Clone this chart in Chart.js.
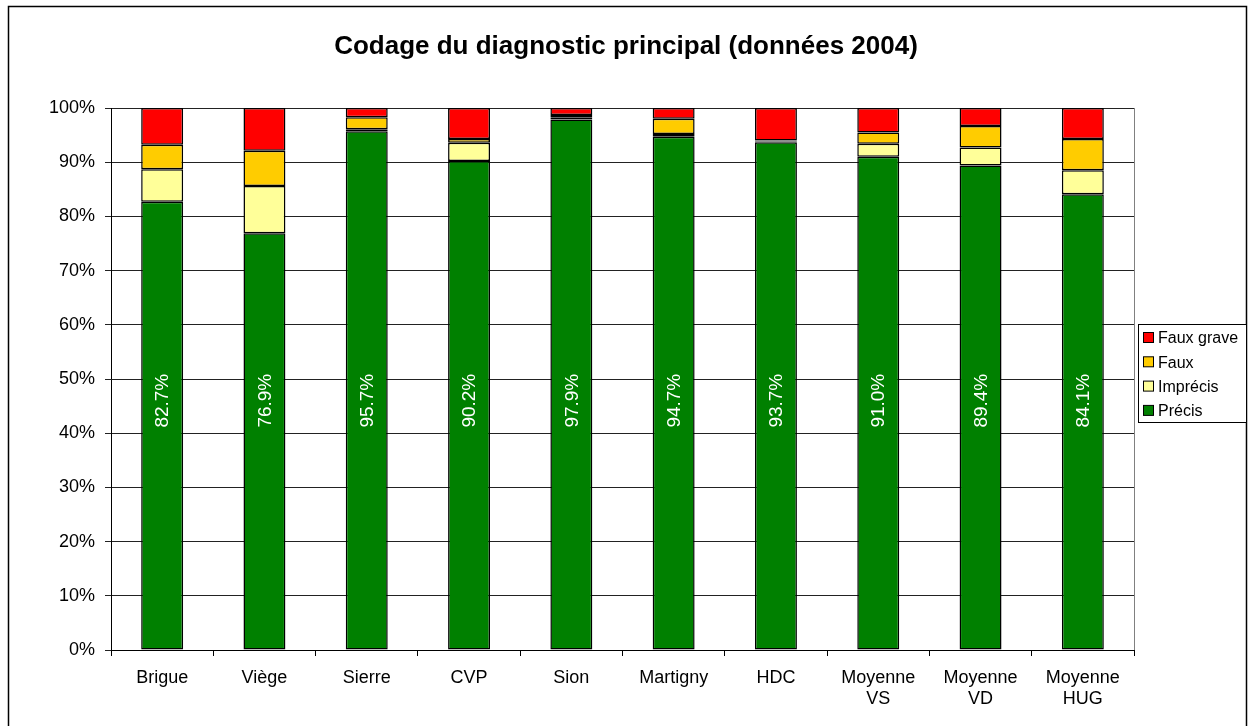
<!DOCTYPE html>
<html>
<head>
<meta charset="utf-8">
<script src="https://cdn.jsdelivr.net/npm/chart.js@4/dist/chart.umd.min.js"></script>
<style>
    html, body { margin: 0; padding: 0; background: #fff; }
    #wrap { position: relative; width: 1249px; height: 726px; }
</style>
</head>
<body>
<div id="wrap"><canvas id="chart" width="1249" height="726"></canvas></div>
<script>
const categories = ['Brigue', 'Viège', 'Sierre', 'CVP', 'Sion', 'Martigny', 'HDC',
    ['Moyenne', 'VS'], ['Moyenne', 'VD'], ['Moyenne', 'HUG']];
const precis     = [82.7, 76.9, 95.7, 90.2, 97.9, 94.7, 93.7, 91.0, 89.4, 84.1];
const imprecis   = [6.0, 8.7, 0.4, 3.4, 0.4, 0.5, 0.1, 2.4, 3.3, 4.4];
const faux       = [4.5, 6.5, 2.2, 0.7, 0.4, 2.8, 0.2, 2.1, 4.0, 5.8];
const fauxGrave  = [6.8, 7.9, 1.7, 5.7, 1.3, 2.0, 6.0, 4.5, 3.3, 5.7];
const yTicks = [0, 10, 20, 30, 40, 50, 60, 70, 80, 90, 100];

const FONT = "'Liberation Sans', Arial, sans-serif";
const titleText = 'Codage du diagnostic principal (données 2004)';

// frame, title, labels in the green bars, legend box
const extras = {
    id: 'extras',
    beforeDraw(chart) {
        const ctx = chart.ctx;
        const a = chart.chartArea;
        ctx.save();
        ctx.strokeStyle = '#000';
        ctx.lineWidth = 1.5;
        ctx.beginPath();
        ctx.moveTo(8.5, 740);
        ctx.lineTo(8.5, 6.5);
        ctx.lineTo(1246.5, 6.5);
        ctx.lineTo(1246.5, 740);
        ctx.stroke();
        // plot area border
        ctx.strokeStyle = '#808080';
        ctx.lineWidth = 1;
        ctx.strokeRect(a.left + 0.5, a.top + 0.5, a.right - a.left, a.bottom - a.top);
        ctx.restore();
    },
    afterDraw(chart) {
        const ctx = chart.ctx;
        const y = chart.scales.y;
        ctx.save();
        ctx.fillStyle = '#000';
        ctx.font = 'bold 26px ' + FONT;
        ctx.textAlign = 'center';
        ctx.textBaseline = 'middle';
        ctx.fillText(titleText, 626, 47);

        // values in Précis bars
        const meta = chart.getDatasetMeta(0);
        ctx.fillStyle = '#fff';
        ctx.font = '19px ' + FONT;
        meta.data.forEach((bar, i) => {
            ctx.save();
            ctx.translate(bar.x, y.getPixelForValue(46));
            ctx.rotate(-Math.PI / 2);
            ctx.fillText(precis[i].toFixed(1) + '%', 0, 1);
            ctx.restore();
        });

        // legend (reverse order)
        const lx = 1138, ly = 324, lw = 108, lh = 98;
        ctx.fillStyle = '#fff';
        ctx.fillRect(lx, ly, lw, lh);
        ctx.strokeStyle = '#000';
        ctx.lineWidth = 1;
        ctx.strokeRect(lx + 0.5, ly + 0.5, lw, lh);
        ctx.font = '16px ' + FONT;
        ctx.textAlign = 'left';
        const sets = chart.data.datasets.slice().reverse();
        sets.forEach((ds, i) => {
            const cy = 338 + i * 24.3;
            ctx.fillStyle = ds.backgroundColor;
            ctx.fillRect(1143.5, cy - 5.5, 10, 10);
            ctx.strokeStyle = '#000';
            ctx.strokeRect(1143.5, cy - 5.5, 10, 10);
            ctx.fillStyle = '#000';
            ctx.fillText(ds.label, 1158, cy + 1);
        });
        ctx.restore();
    }
};

const mkSet = (label, data, color) => ({
    label: label,
    data: data,
    backgroundColor: color,
    borderColor: '#000',
    borderWidth: 1.5,
    borderSkipped: false,
    barPercentage: 0.41,
    categoryPercentage: 1
});

new Chart(document.getElementById('chart'), {
    type: 'bar',
    data: {
        labels: categories,
        datasets: [
            mkSet('Précis', precis, '#008000'),
            mkSet('Imprécis', imprecis, '#FFFF99'),
            mkSet('Faux', faux, '#FFCC00'),
            mkSet('Faux grave', fauxGrave, '#FF0000')
        ]
    },
    options: {
        responsive: false,
        animation: false,
        layout: { padding: { top: 108, right: 115, left: 0, bottom: 0 } },
        plugins: {
            legend: { display: false },
            title: { display: false },
            tooltip: { enabled: false }
        },
        scales: {
            x: {
                stacked: true,
                grid: { offset: true, drawOnChartArea: false, drawTicks: true, tickLength: 6, color: '#000' },
                border: { color: '#000' },
                ticks: { color: '#000', font: { family: FONT, size: 18 }, padding: 11, maxRotation: 0, autoSkip: false },
                afterFit(scale) { scale.height = 76; }
            },
            y: {
                stacked: true,
                min: 0,
                max: 100,
                grid: { color: '#222', tickLength: 6 },
                border: { color: '#000' },
                afterBuildTicks(scale) { scale.ticks = yTicks.map(v => ({ value: v })); },
                ticks: {
                    color: '#000',
                    font: { family: FONT, size: 18 },
                    padding: 10,
                    callback: v => v + '%'
                },
                afterFit(scale) { scale.width = 111; }
            }
        }
    },
    plugins: [extras]
});
</script>
</body>
</html>
